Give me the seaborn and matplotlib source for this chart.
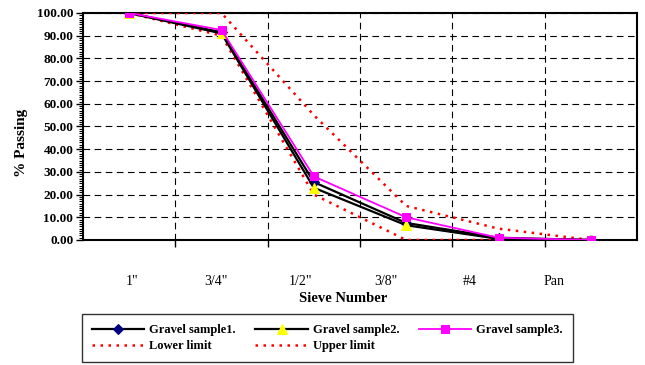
import matplotlib
matplotlib.use("Agg")
import matplotlib.pyplot as plt
from matplotlib import ticker
import numpy as np
import seaborn as sns

# sieve sizes and % passing
sieves  = ['1"', '3/4"', '1/2"', '3/8"', '#4', 'Pan']
sample1 = [100.0, 91.5, 25.5, 7.5, 1.0, 0.0]
sample2 = [100.0, 91.0, 23.0, 6.5, 0.5, 0.0]
sample3 = [100.0, 92.5, 28.0, 10.0, 1.0, 0.0]
lower   = [100.0, 90.0, 20.0, 0.0, 0.0, 0.0]
upper   = [100.0, 100.0, 55.0, 15.0, 5.0, 0.0]

plt.rcParams['font.family'] = ['Liberation Serif', 'DejaVu Serif']

fig = plt.figure(figsize=(6.45, 3.65), dpi=100)
ax = fig.add_axes([0.1287, 0.3425, 0.8589, 0.6219])

x = np.arange(len(sieves))
dots = (0, (1, 2.2))

# limits first so the samples sit on top
sns.lineplot(x=x, y=lower, ax=ax, color='red', lw=1.8, linestyle=dots,
             label='Lower limit', zorder=3)
sns.lineplot(x=x, y=upper, ax=ax, color='red', lw=1.8, linestyle=dots,
             label='Upper limit', zorder=3)
sns.lineplot(x=x, y=sample1, ax=ax, color='black', lw=1.6, marker='D',
             markersize=5, markerfacecolor='navy', markeredgecolor='navy',
             label='Gravel sample1.', zorder=4)
sns.lineplot(x=x, y=sample2, ax=ax, color='black', lw=1.6, marker='^',
             markersize=7, markerfacecolor='yellow', markeredgecolor='yellow',
             label='Gravel sample2.', zorder=4)
sns.lineplot(x=x, y=sample3, ax=ax, color='magenta', lw=1.3, marker='s',
             markersize=6, markerfacecolor='magenta', markeredgecolor='magenta',
             label='Gravel sample3.', zorder=5)

ax.set_xlim(-0.5, len(sieves) - 0.5)
ax.set_ylim(0, 100)

# y axis
ax.yaxis.set_major_locator(ticker.MultipleLocator(10))
ax.yaxis.set_minor_locator(ticker.MultipleLocator(1))
ax.yaxis.set_major_formatter(ticker.FormatStrFormatter('%.2f'))
ax.tick_params(axis='y', which='major', direction='out', length=5, width=1,
               labelsize=9.5, pad=2)
ax.tick_params(axis='y', which='minor', direction='out', length=3, width=0.8)
for lab in ax.get_yticklabels():
    lab.set_fontweight('bold')

# x axis: tick marks between categories, labels placed like the original (a bit compressed)
ax.xaxis.set_minor_locator(ticker.FixedLocator(x[:-1] + 0.5))
ax.set_xticks(x * 0.915 + 0.03)
ax.set_xticklabels(sieves, fontsize=10)
ax.tick_params(axis='x', which='major', length=0, pad=25)
ax.tick_params(axis='x', which='minor', direction='out', length=5, width=1)

ax.grid(False)
ax.yaxis.grid(True, which='major', color='black', linestyle=(0, (6, 4)), lw=0.8)
ax.xaxis.grid(True, which='minor', color='black', linestyle=(0, (6, 4)), lw=0.8)
ax.set_axisbelow(True)

for s in ax.spines.values():
    s.set_color('black')
    s.set_linewidth(1.5)

ax.set_ylabel('% Passing', fontsize=11, fontweight='bold')
ax.yaxis.set_label_coords(-0.10, 0.43)
ax.set_xlabel('Sieve Number', fontsize=10.5, fontweight='bold')
ax.xaxis.set_label_coords(0.47, -0.23)

# legend: 3 columns, order gives row1 = samples, row2 = limits
h, l = ax.get_legend_handles_labels()
d = dict(zip(l, h))
order = ['Gravel sample1.', 'Lower limit', 'Gravel sample2.', 'Upper limit', 'Gravel sample3.']
ax.get_legend().remove()
leg = fig.legend([d[k] for k in order], order, ncol=3, loc='lower left',
                 bbox_to_anchor=(0.127, 0.008, 0.761, 0.131), mode='expand',
                 borderaxespad=0, frameon=True, fancybox=False, edgecolor='black',
                 prop={'weight': 'bold', 'size': 9}, handlelength=4.2,
                 handletextpad=0.4, labelspacing=0.3, borderpad=0.8)
leg.get_frame().set_linewidth(1.0)

plt.savefig('out.png', dpi=100)
